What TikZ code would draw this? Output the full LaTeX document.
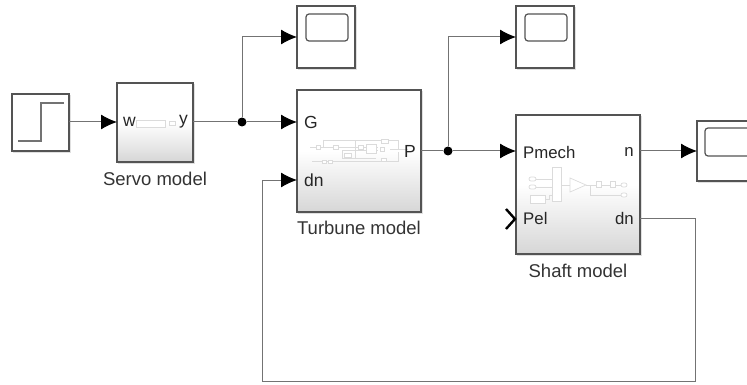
\documentclass[tikz,border=0pt]{standalone}
\usepackage{fontspec}
\setmainfont{Liberation Sans}
\usetikzlibrary{arrows.meta}
\definecolor{edgecol}{gray}{0.33}
\definecolor{wire}{gray}{0.45}
\definecolor{faint}{gray}{0.86}
\tikzset{
  x=1pt,y=-1pt,
  wireline/.style={draw=wire,line width=1pt},
  sig/.style={wireline,-{Latex[length=16pt,width=15pt,color=black,sep=0pt]}},
  junction/.style={circle,fill=black,inner sep=0pt,minimum size=9pt},
  screen/.style={draw=edgecol,line width=1.2pt,rounded corners=3pt,fill=white},
  stepcurve/.style={draw=black!55,line width=1.2pt},
  innerline/.style={draw=faint,line width=0.7pt},
  blockfill/.style={top color=white,bottom color=black!16,middle color=white},
  captext/.style={font=\fontsize{18.5}{20}\selectfont,text=black!80},
  portlabel/.style={font=\fontsize{17.5}{20}\selectfont,inner sep=0pt,text=black!85},
  labelsmall/.style={font=\fontsize{16.8}{20}\selectfont,inner sep=0pt,text=black!85}
}
\newcommand{\blk}[6][]{%
  \path[draw=black!12,line width=1pt,fill=black!12] (#3+1.5,#4+1.5) rectangle (#5+1.5,#6+1.5);
  \path[draw=edgecol,line width=1.5pt,#1] (#3,#4) rectangle (#5,#6);
}
\begin{document}
\begin{tikzpicture}
\useasboundingbox (0,0) rectangle (747,385);
% Blocks
\blk[fill=white]{st}{12}{94}{69}{151}
\blk[blockfill]{sv}{117}{83}{193}{162}
\blk[fill=white]{sa}{297}{6}{355}{68}
\blk[blockfill]{tb}{297}{90}{421}{212}
\blk[fill=white]{sb}{516}{6}{574}{68}
\blk[blockfill]{sh}{516}{115}{640}{254}
\blk[fill=white]{sc}{697}{121}{760}{181}
% Step icon
\draw[stepcurve] (18,141) -- (41,141) -- (41,103) -- (64,103);
% Scope screens
\draw[screen] (306,14) rectangle (348,41);
\draw[screen] (525,14) rectangle (567,41);
\draw[screen] (705,128) rectangle (752,156);
% Ports for connectors
\coordinate (stOut) at (69,122);
\coordinate (svIn) at (117,122);
\coordinate (svOut) at (193,122);
\coordinate (saIn) at (297,37);
\coordinate (tbG) at (297,122);
\coordinate (tbDn) at (297,180);
\coordinate (tbP) at (421,151);
\coordinate (sbIn) at (516,37);
\coordinate (shP) at (516,151);
\coordinate (shN) at (640,151);
\coordinate (shDn) at (640,218);
\coordinate (scIn) at (697,151);
\coordinate (r1) at (695,218);
\coordinate (r2) at (695,381);
\coordinate (r3) at (262,381);
\coordinate (r4) at (262,180);
\node[junction] (j1) at (242,122) {};
\node[junction] (j2) at (448,151) {};
\coordinate (u1) at (242,37);
\coordinate (u2) at (448,37);
% Connectors
\draw[sig] (stOut) -- (svIn);
\draw[wireline] (svOut) -- (j1);
\draw[sig] (j1) -- (u1) -- (saIn);
\draw[sig] (j1) -- (tbG);
\draw[wireline] (tbP) -- (j2);
\draw[sig] (j2) -- (u2) -- (sbIn);
\draw[sig] (j2) -- (shP);
\draw[sig] (shN) -- (scIn);
\draw[sig] (shDn) -- (r1) -- (r2) -- (r3) -- (r4) -- (tbDn);
% Unconnected input chevron
\draw[black,line width=2.4pt,line join=miter] (506,209) -- (515,219) -- (506,229);
% Servo inner
\draw[innerline,fill=white] (136,120) rectangle (165,127);
\draw[innerline,fill=white] (169,121) rectangle (175,125);
% Turbine inner
\begin{scope}[innerline,line width=0.4pt]
\draw (310,147) -- (378,147) (390,149) -- (408,149);
\draw (323,140) -- (323,147) (323,140) -- (398,140) -- (398,149);
\draw (342,158) -- (342,150) -- (378,150);
\draw (342,158) -- (376,158);
\draw (312,161) -- (398,161) -- (398,152);
\draw (355,158) -- (355,140);
\draw[fill=white] (316,145) rectangle (320,149);
\draw[fill=white] (333,145) rectangle (338,149);
\draw[fill=white] (344,153) rectangle (351,157);
\draw[fill=white] (358,145) rectangle (363,149);
\draw[fill=white] (366,144) rectangle (376,153);
\draw[fill=white] (381,139) rectangle (388,143);
\draw[fill=white] (381,158) rectangle (386,161);
\draw[fill=white] (380,147) rectangle (384,151);
\draw[fill=white] (322,160) rectangle (326,163);
\draw[fill=white] (328,160) rectangle (332,163);
\end{scope}
% Shaft inner
\begin{scope}[innerline]
\draw (530,179) -- (552,179) (530,187) -- (552,187);
\draw (545,199) -- (549,199) -- (549,195) -- (552,195);
\draw (561,185) -- (570,185) (586,185) -- (625,185);
\draw (590,185) -- (590,195) -- (625,195);
\draw[fill=white] (552,167) rectangle (561,201);
\draw[fill=white] (570,178) -- (586,185) -- (570,192) -- cycle;
\draw[fill=white,rounded corners=2pt] (529,177) rectangle (536,181);
\draw[fill=white,rounded corners=2pt] (529,185) rectangle (536,189);
\draw[fill=white] (530,195) rectangle (545,203);
\draw[fill=white] (596,181) rectangle (601,187);
\draw[fill=white] (610,181) rectangle (615,187);
\draw[fill=white,rounded corners=2pt] (621,183) rectangle (627,187);
\draw[fill=white,rounded corners=2pt] (621,193) rectangle (627,197);
\end{scope}
% Labels
\node[portlabel,anchor=west] (wl) at (123,122) {w};
\node[portlabel,anchor=east] (yl) at (188,122) {y};
\node[portlabel,anchor=west] (gl) at (304,122) {G};
\node[portlabel,anchor=west] (dl) at (304,180) {dn};
\node[portlabel,anchor=east] (pl) at (416,151) {P};
\node[labelsmall,anchor=west] (pm) at (523,152) {Pmech};
\node[labelsmall,anchor=west] (pe) at (523,218) {Pel};
\node[labelsmall,anchor=east] (nl) at (634,152) {n};
\node[labelsmall,anchor=east] (dr) at (634,218) {dn};
\node[captext] (c1) at (155,179) {Servo model};
\node[captext] (c2) at (359,228) {Turbune model};
\node[captext] (c3) at (578,271) {Shaft model};
\end{tikzpicture}
\end{document}
